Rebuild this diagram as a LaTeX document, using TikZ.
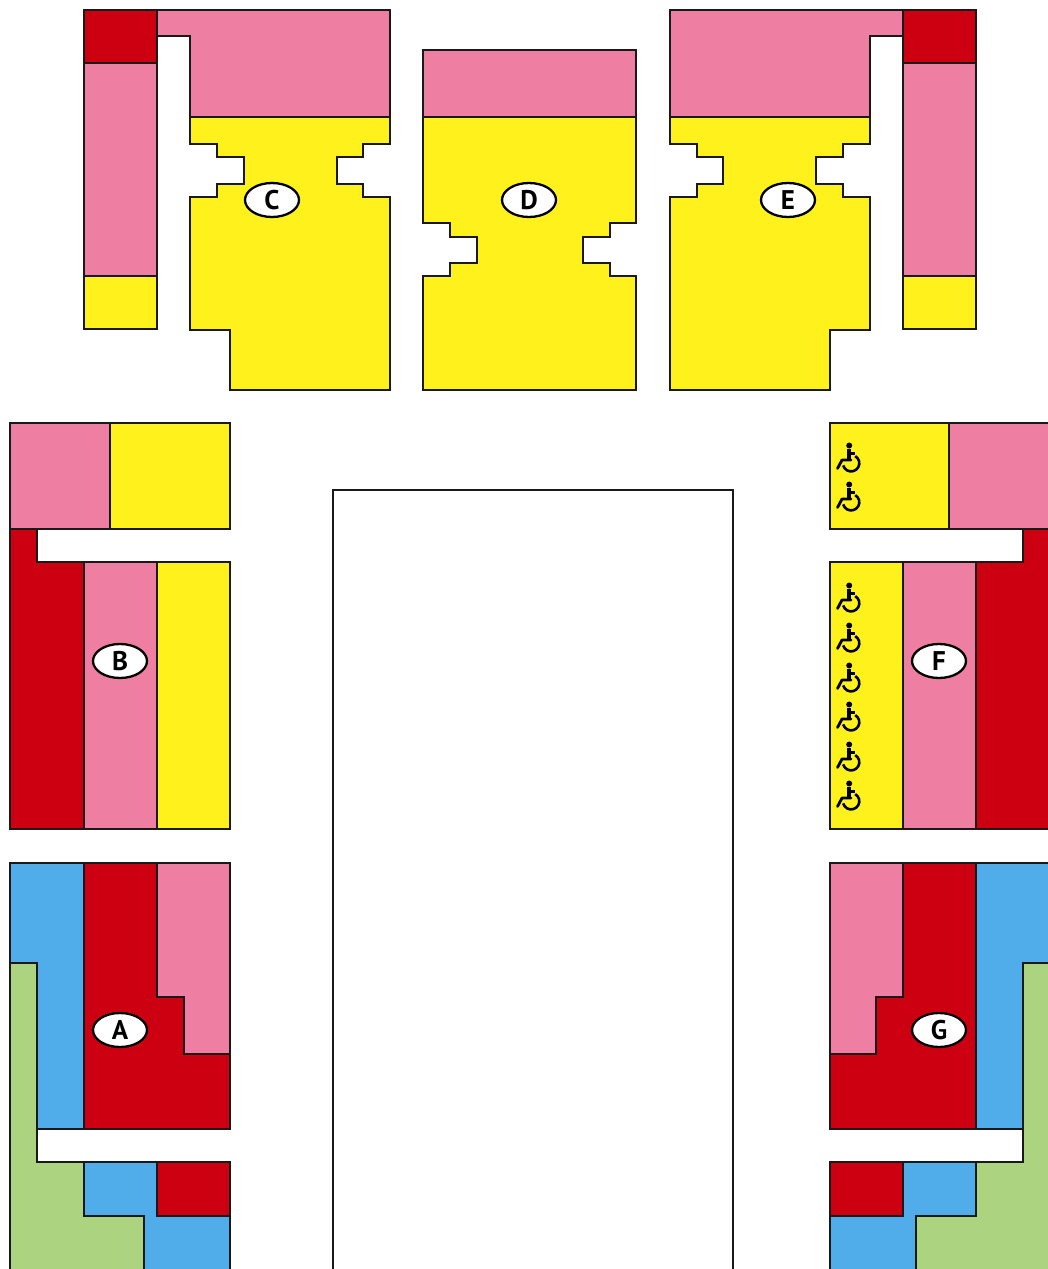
\documentclass[tikz,border=0pt]{standalone}
\usepackage{fontspec}
\setmainfont{PT Sans}
\usetikzlibrary{shapes.geometric}
\definecolor{pinkc}{HTML}{EE7FA3}
\definecolor{redc}{HTML}{CC0010}
\definecolor{yellowc}{HTML}{FFF21C}
\definecolor{bluec}{HTML}{50ADE9}
\definecolor{greenc}{HTML}{ACD480}
\tikzset{
  zone/.style={draw=black!90,line width=2.7pt,line join=miter},
  pinkz/.style={zone,fill=pinkc},
  redz/.style={zone,fill=redc},
  yellowz/.style={zone,fill=yellowc},
  bluez/.style={zone,fill=bluec},
  greenz/.style={zone,fill=greenc},
  whitez/.style={zone,fill=white},
  tag/.style={ellipse,draw=black,line width=2.3pt,fill=white,minimum width=54pt,minimum height=34pt,inner sep=0pt,font=\bfseries\fontsize{27}{27}\selectfont},
  pics/wheel/.style={code={
    \fill[black] (1.2,-12.5) circle[radius=3];
    \draw[black,line width=3.8pt] (1.2,-9) -- (1.2,3);
    \draw[black,line width=2.4pt] (1.2,-4.5) -- (6.5,-4.5);
    \draw[black,line width=2.8pt,line cap=round,line join=round] (3,2) -- (-6,2) -- (-10.5,10.5);
    \draw[black,line width=2.6pt] (7.2,-1.9) arc[start angle=-60,end angle=165,radius=8.2];
  }}
}
\begin{document}
\begin{tikzpicture}[x=1pt,y=-1pt]
\useasboundingbox (0,0) rectangle (1048,1269);
\clip (0,0) rectangle (1048,1269);
\fill[white] (0,0) rectangle (1048,1269);
% C
\path[redz] (84,10) rectangle (157,63);
\path[pinkz] (84,63) rectangle (157,276);
\path[yellowz] (84,276) rectangle (157,329);
\path[pinkz] (157,10) -- (390,10) -- (390,117) -- (190,117) -- (190,36) -- (157,36) -- cycle;
\path[yellowz] (190,117) -- (390,117) -- (390,144) -- (363,144) -- (363,157) -- (337,157) -- (337,184) -- (363,184) -- (363,197) -- (390,197) -- (390,390) -- (230,390) -- (230,330) -- (190,330) -- (190,197) -- (217,197) -- (217,184) -- (244,184) -- (244,157) -- (217,157) -- (217,144) -- (190,144) -- cycle;
% D
\path[pinkz] (423,50) rectangle (636,117);
\path[yellowz] (423,117) -- (636,117) -- (636,223) -- (610,223) -- (610,237) -- (583,237) -- (583,263) -- (610,263) -- (610,276) -- (636,276) -- (636,390) -- (423,390) -- (423,276) -- (450,276) -- (450,263) -- (477,263) -- (477,237) -- (450,237) -- (450,223) -- (423,223) -- cycle;
% E
\path[redz] (976,10) rectangle (903,63);
\path[pinkz] (976,63) rectangle (903,276);
\path[yellowz] (976,276) rectangle (903,329);
\path[pinkz] (903,10) -- (670,10) -- (670,117) -- (870,117) -- (870,36) -- (903,36) -- cycle;
\path[yellowz] (870,117) -- (670,117) -- (670,144) -- (697,144) -- (697,157) -- (723,157) -- (723,184) -- (697,184) -- (697,197) -- (670,197) -- (670,390) -- (830,390) -- (830,330) -- (870,330) -- (870,197) -- (843,197) -- (843,184) -- (816,184) -- (816,157) -- (843,157) -- (843,144) -- (870,144) -- cycle;
% B
\path[pinkz] (10,423) rectangle (110,529);
\path[yellowz] (110,423) rectangle (230,529);
\path[redz] (10,529) -- (37,529) -- (37,562) -- (84,562) -- (84,829) -- (10,829) -- cycle;
\path[pinkz] (84,562) rectangle (157,829);
\path[yellowz] (157,562) rectangle (230,829);
% F
\path[pinkz] (1055,423) rectangle (949,529);
\path[yellowz] (949,423) rectangle (830,529);
\path[redz] (1055,529) -- (1023,529) -- (1023,562) -- (976,562) -- (976,829) -- (1055,829) -- cycle;
\path[pinkz] (976,562) rectangle (903,829);
\path[yellowz] (903,562) rectangle (830,829);
% A
\path[bluez] (10,863) -- (84,863) -- (84,1129) -- (37,1129) -- (37,963) -- (10,963) -- cycle;
\path[redz] (84,863) -- (157,863) -- (157,997) -- (184,997) -- (184,1054) -- (230,1054) -- (230,1129) -- (84,1129) -- cycle;
\path[pinkz] (157,863) -- (230,863) -- (230,1054) -- (184,1054) -- (184,997) -- (157,997) -- cycle;
\path[greenz] (10,963) -- (37,963) -- (37,1162) -- (84,1162) -- (84,1216) -- (144,1216) -- (144,1280) -- (10,1280) -- cycle;
\path[bluez] (84,1162) -- (157,1162) -- (157,1216) -- (230,1216) -- (230,1280) -- (144,1280) -- (144,1216) -- (84,1216) -- cycle;
\path[redz] (157,1162) rectangle (230,1216);
% G
\path[bluez] (1055,863) -- (976,863) -- (976,1129) -- (1023,1129) -- (1023,963) -- (1055,963) -- cycle;
\path[redz] (976,863) -- (903,863) -- (903,997) -- (876,997) -- (876,1054) -- (830,1054) -- (830,1129) -- (976,1129) -- cycle;
\path[pinkz] (903,863) -- (830,863) -- (830,1054) -- (876,1054) -- (876,997) -- (903,997) -- cycle;
\path[greenz] (1055,963) -- (1023,963) -- (1023,1162) -- (976,1162) -- (976,1216) -- (916,1216) -- (916,1280) -- (1055,1280) -- cycle;
\path[bluez] (976,1162) -- (903,1162) -- (903,1216) -- (830,1216) -- (830,1280) -- (916,1280) -- (916,1216) -- (976,1216) -- cycle;
\path[redz] (903,1162) rectangle (830,1216);
% centre
\path[whitez] (333,490) rectangle (733,1280);
% labels
\node[tag] (lc) at (272,200) {C};
\node[tag] (ld) at (529,200) {D};
\node[tag] (le) at (788,200) {E};
\node[tag] (lb) at (120,661) {B};
\node[tag] (lf) at (939,661) {F};
\node[tag] (la) at (120,1030) {A};
\node[tag] (lg) at (939,1030) {G};
% wheelchairs
\foreach \yy in {458,497,598,638,678,717,757,796} \pic at (848,\yy) {wheel};
\end{tikzpicture}
\end{document}
